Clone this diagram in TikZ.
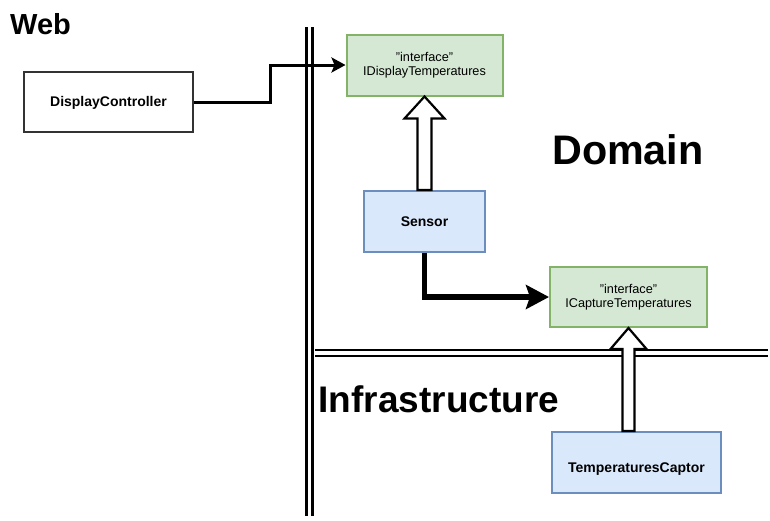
\documentclass[tikz,border=0pt]{standalone}
\usepackage{fontspec}
\setmainfont{Liberation Sans}
\usetikzlibrary{calc,arrows.meta}
\definecolor{gfill}{HTML}{D5E8D4}
\definecolor{gdraw}{HTML}{82B366}
\definecolor{bfill}{HTML}{DAE8FC}
\definecolor{bdraw}{HTML}{6C8EBF}
\definecolor{kdraw}{HTML}{333333}
\tikzset{
  box/.style={draw, line width=2pt, inner sep=0pt, align=center},
  whitebox/.style={box, draw=kdraw, fill=white, font=\fontsize{14}{16}\selectfont\bfseries},
  ifacebox/.style={box, draw=gdraw, fill=gfill, font=\fontsize{12.7}{14}\selectfont},
  classbox/.style={box, draw=bdraw, fill=bfill, font=\fontsize{14}{16}\selectfont\bfseries},
  conn/.style={line width=3pt, -{Stealth[length=14pt,width=15pt,inset=3pt]}},
  bigconn/.style={line width=5.5pt, -{Stealth[length=23pt,width=24pt,inset=4pt]}},
  hollow/.style={draw, line width=2.2pt, fill=white, line join=miter},
  wall/.style={double, double distance=3.5pt, line width=2.4pt},
  layer/.style={anchor=base west, inner sep=0pt, font=\bfseries}
}
\begin{document}
\begin{tikzpicture}[x=1pt,y=-1pt]
\useasboundingbox (0,0) rectangle (770,520);
% walls
\coordinate (vt) at (309.5,27);
\coordinate (vb) at (309.5,516);
\coordinate (hl) at (315,353);
\coordinate (hr) at (768,353);
\draw[wall] (vt) -- (vb);
\draw[wall] (hl) -- (hr);
% layer titles
\node[layer, font=\fontsize{29}{32}\selectfont\bfseries] (web) at (10,34) {Web};
\node[layer, font=\fontsize{41.3}{46}\selectfont\bfseries] (domain) at (552,164) {Domain};
\node[layer, font=\fontsize{37}{40}\selectfont\bfseries] (infra) at (318.5,412) {Infrastructure};
% boxes
\node[whitebox, minimum width=169pt, minimum height=60pt] (dc) at (108.5,102) {\raisebox{-4.5pt}[0pt][0pt]{DisplayController}};
\node[ifacebox, minimum width=156pt, minimum height=61pt] (idisp) at (424.5,65) {"interface"\\IDisplayTemperatures};
\node[classbox, minimum width=121pt, minimum height=61pt] (sensor) at (424.5,221.5) {Sensor};
\node[ifacebox, minimum width=157pt, minimum height=60pt] (icap) at (628.5,297) {"interface"\\ICaptureTemperatures};
\node[classbox, minimum width=169pt, minimum height=61pt] (capt) at (636.5,462.5) {\raisebox{-10pt}[0pt][0pt]{TemperaturesCaptor}};
% connectors
\draw[conn] (dc.east) -- ++(76,0) |- (idisp.west);
\draw[bigconn] (sensor.south) |- (icap.west);
% hollow arrows (realization)
\draw[hollow] (idisp.south) -- ++(20,22) -- ++(-13,0) -- ($(sensor.north)+(7,0)$)
  -- ($(sensor.north)+(-7,0)$) -- ($(idisp.south)+(-7,22)$) -- ++(-13,0) -- cycle;
\draw[hollow] (icap.south) -- ++(18,21) -- ++(-12,0) -- ($(icap.south |- capt.north)+(6,0)$)
  -- ($(icap.south |- capt.north)+(-6,0)$) -- ($(icap.south)+(-6,21)$) -- ++(-12,0) -- cycle;
\end{tikzpicture}
\end{document}
